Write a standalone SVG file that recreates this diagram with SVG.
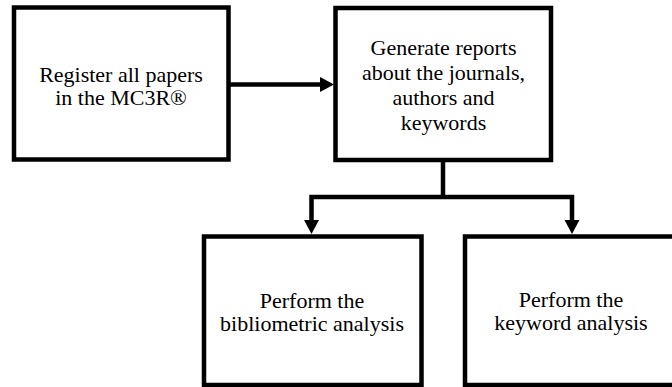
<svg xmlns="http://www.w3.org/2000/svg" width="672" height="387" viewBox="0 0 672 387">
<style>
.box{fill:#fff;stroke:#000;stroke-width:4.5}
.ln{fill:none;stroke:#000;stroke-width:4.5}
.ah{fill:#000}
text{font-family:"Liberation Serif","Times New Roman",serif;font-size:22px;fill:#000;text-anchor:middle}
</style>
<rect width="672" height="387" fill="#fff"/>
<g id="connectors">
<line class="ln" x1="228.5" y1="84.5" x2="322" y2="84.5"/>
<polygon class="ah" points="320,77 334,84.5 320,92"/>
<polyline class="ln" points="443,160 443,197"/>
<polyline class="ln" points="311.5,222 311.5,197 572,197 572,222"/>
<polygon class="ah" points="304,220 311.5,234 319,220"/>
<polygon class="ah" points="564.5,220 572,234 579.5,220"/>
</g>
<g id="n1">
<rect class="box" x="14" y="7.5" width="214.5" height="152"/>
<text x="121" y="82">Register all papers</text>
<text x="121" y="105">in the MC3R®</text>
</g>
<g id="n2">
<rect class="box" x="335.5" y="8" width="215.5" height="152"/>
<text x="443.5" y="55">Generate reports</text>
<text x="443.5" y="80">about the journals,</text>
<text x="443.5" y="105">authors and</text>
<text x="443.5" y="130">keywords</text>
</g>
<g id="n3">
<rect class="box" x="204" y="236.5" width="217.5" height="148.5"/>
<text x="312" y="308">Perform the</text>
<text x="312" y="331">bibliometric analysis</text>
</g>
<g id="n4">
<rect class="box" x="465" y="236.5" width="212" height="148.5"/>
<text x="571" y="307">Perform the</text>
<text x="571" y="330">keyword analysis</text>
</g>
</svg>
